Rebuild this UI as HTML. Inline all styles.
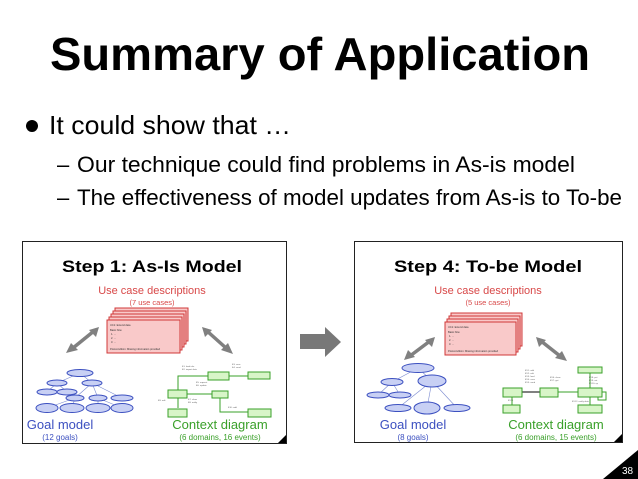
<!DOCTYPE html>
<html><head><meta charset="utf-8"><style>
html,body{margin:0;padding:0;background:#fff;}
svg{display:block;}
text{font-family:"Liberation Sans",sans-serif;}
</style></head><body>
<svg width="638" height="479" viewBox="0 0 638 479" xmlns="http://www.w3.org/2000/svg">
<rect width="638" height="479" fill="#fff"/>
<text x="50" y="70" font-size="46" font-weight="bold" textLength="540" lengthAdjust="spacingAndGlyphs">Summary of Application</text>
<circle cx="32" cy="126" r="6" fill="#000"/>
<text x="49" y="134" font-size="26" textLength="242" lengthAdjust="spacingAndGlyphs">It could show that …</text>
<text x="57" y="172" font-size="22">–</text>
<text x="77" y="172" font-size="22" textLength="498" lengthAdjust="spacingAndGlyphs">Our technique could find problems in As-is model</text>
<text x="57" y="205" font-size="22">–</text>
<text x="77" y="205" font-size="22" textLength="545" lengthAdjust="spacingAndGlyphs">The effectiveness of model updates from As-is to To-be</text>

<!-- left thumbnail -->
<rect x="22.5" y="241.5" width="264" height="202" fill="#fff" stroke="#222" stroke-width="1"/>
<text x="152" y="272" font-size="17" font-weight="bold" text-anchor="middle" textLength="180" lengthAdjust="spacingAndGlyphs">Step 1: As-Is Model</text>
<text x="152" y="294" font-size="11" fill="#d84848" text-anchor="middle">Use case descriptions</text>
<text x="152" y="305" font-size="7.5" fill="#d84848" text-anchor="middle">(7 use cases)</text>
<g fill="#f9c9c9" stroke="#d03838" stroke-width="1">
<rect x="115" y="308" width="73" height="33"/><rect x="113" y="311" width="73" height="33"/><rect x="111" y="314" width="73" height="33"/><rect x="109" y="317" width="73" height="33"/><rect x="107" y="320" width="73" height="33"/>
</g>
<g fill="#333" font-size="2.6"><text x="110" y="326">UC1: Extend data</text><text x="110" y="331">Basic flow</text><text x="111" y="335">1.  ...</text><text x="111" y="339">2.  ...</text><text x="111" y="343">3.  ...</text><text x="110" y="350">Postcondition: Missing information provided</text></g>
<g stroke="#808080" stroke-width="3.5" fill="#808080">
<line x1="94" y1="331" x2="73" y2="348"/><polygon points="66,353 71,343 78,350" stroke="none"/><polygon points="99,327 89,330 96,337" stroke="none"/>
<line x1="207" y1="331" x2="226" y2="348"/><polygon points="233,354 221,350 228,343" stroke="none"/><polygon points="202,327 212,330 205,337" stroke="none"/>
</g>
<g stroke="#7a8ad0" stroke-width="0.6">
<line x1="80" y1="373" x2="57" y2="383"/><line x1="80" y1="373" x2="92" y2="383"/><line x1="57" y1="383" x2="47" y2="392"/><line x1="57" y1="383" x2="67" y2="392"/><line x1="92" y1="383" x2="75" y2="398"/><line x1="92" y1="383" x2="98" y2="398"/><line x1="92" y1="383" x2="122" y2="398"/><line x1="75" y1="398" x2="47" y2="408"/><line x1="75" y1="398" x2="72" y2="408"/><line x1="98" y1="398" x2="98" y2="408"/><line x1="98" y1="398" x2="122" y2="408"/>
</g>
<g fill="#c8d0f4" stroke="#3c50c0" stroke-width="1">
<ellipse cx="80" cy="373" rx="13" ry="3.5"/><ellipse cx="57" cy="383" rx="10" ry="3"/><ellipse cx="92" cy="383" rx="10" ry="3"/><ellipse cx="47" cy="392" rx="10" ry="3"/><ellipse cx="67" cy="392" rx="10" ry="3"/><ellipse cx="75" cy="398" rx="9" ry="3"/><ellipse cx="98" cy="398" rx="9" ry="3"/><ellipse cx="122" cy="398" rx="11" ry="3"/><ellipse cx="47" cy="408" rx="11" ry="4.5"/><ellipse cx="72" cy="408" rx="12" ry="4.5"/><ellipse cx="98" cy="408" rx="12" ry="4.5"/><ellipse cx="122" cy="408" rx="11" ry="4.5"/>
</g>
<g stroke="#3aa02a" stroke-width="1" fill="none">
<polyline points="208,376 178,376 178,408"/><line x1="229" y1="376" x2="248" y2="376"/><line x1="187" y1="394" x2="212" y2="394"/><polyline points="220,398 220,412 248,412"/>
</g>
<g fill="#d8f5c8" stroke="#3aa02a" stroke-width="1">
<rect x="208" y="372" width="21" height="8"/><rect x="248" y="372" width="22" height="7"/><rect x="168" y="390" width="19" height="8"/><rect x="212" y="391" width="16" height="7"/><rect x="168" y="409" width="19" height="8"/><rect x="248" y="409" width="23" height="8"/>
</g>
<g fill="#666" font-size="2.2"><text x="182" y="367">E1: load info</text><text x="182" y="370">E2: import data</text><text x="232" y="365">E3: save</text><text x="232" y="368">E4: send</text><text x="196" y="383">E5: request</text><text x="196" y="386">E6: update</text><text x="188" y="400">E7: show</text><text x="188" y="403">E8: notify</text><text x="158" y="401">E9: edit</text><text x="228" y="408">E10: add</text></g>
<text x="60" y="429" font-size="13" fill="#3c50c0" text-anchor="middle">Goal model</text>
<text x="60" y="440" font-size="8" fill="#3c50c0" text-anchor="middle">(12 goals)</text>
<text x="220" y="429" font-size="13" fill="#3aa02a" text-anchor="middle">Context diagram</text>
<text x="220" y="440" font-size="8" fill="#3aa02a" text-anchor="middle">(6 domains, 16 events)</text>
<polygon points="278,443 286,443 286,435" fill="#000"/>

<!-- big arrow -->
<polygon points="300,334 325,334 325,327 341,342 325,357 325,349 300,349" fill="#787878"/>

<!-- right thumbnail -->
<rect x="354.5" y="241.5" width="268" height="201" fill="#fff" stroke="#222" stroke-width="1"/>
<text x="488" y="272" font-size="17" font-weight="bold" text-anchor="middle" textLength="188" lengthAdjust="spacingAndGlyphs">Step 4: To-be Model</text>
<text x="488" y="294" font-size="11" fill="#d84848" text-anchor="middle">Use case descriptions</text>
<text x="488" y="305" font-size="7.5" fill="#d84848" text-anchor="middle">(5 use cases)</text>
<g fill="#f9c9c9" stroke="#d03838" stroke-width="1">
<rect x="451" y="313" width="71" height="33"/><rect x="449" y="316" width="71" height="33"/><rect x="447" y="319" width="71" height="33"/><rect x="445" y="322" width="71" height="33"/>
</g>
<g fill="#333" font-size="2.6"><text x="448" y="328">UC1: Extend data</text><text x="448" y="333">Basic flow</text><text x="449" y="337">1.  ...</text><text x="449" y="341">2.  ...</text><text x="449" y="345">3.  ...</text><text x="448" y="352">Postcondition: Missing information provided</text></g>
<g stroke="#808080" stroke-width="3.5" fill="#808080">
<line x1="430" y1="341" x2="410" y2="356"/><polygon points="404,360 408,350 415,357" stroke="none"/><polygon points="435,337 425,340 432,347" stroke="none"/>
<line x1="541" y1="341" x2="560" y2="356"/><polygon points="567,361 555,358 562,351" stroke="none"/><polygon points="536,337 546,340 539,347" stroke="none"/>
</g>
<g stroke="#7a8ad0" stroke-width="0.6">
<line x1="418" y1="368" x2="392" y2="382"/><line x1="418" y1="368" x2="432" y2="381"/><line x1="392" y1="382" x2="378" y2="395"/><line x1="392" y1="382" x2="400" y2="395"/><line x1="432" y1="381" x2="398" y2="408"/><line x1="432" y1="381" x2="427" y2="408"/><line x1="432" y1="381" x2="457" y2="408"/>
</g>
<g fill="#c8d0f4" stroke="#3c50c0" stroke-width="1">
<ellipse cx="418" cy="368" rx="16" ry="4.5"/><ellipse cx="392" cy="382" rx="11" ry="3.5"/><ellipse cx="432" cy="381" rx="14" ry="6"/><ellipse cx="378" cy="395" rx="11" ry="3"/><ellipse cx="400" cy="395" rx="11" ry="3"/><ellipse cx="398" cy="408" rx="13" ry="3.5"/><ellipse cx="427" cy="408" rx="13" ry="6"/><ellipse cx="457" cy="408" rx="13" ry="3.5"/>
</g>
<line x1="522" y1="392" x2="540" y2="392" stroke="#000" stroke-width="1"/>
<g stroke="#3aa02a" stroke-width="1" fill="none">
<line x1="558" y1="392" x2="578" y2="392"/><line x1="590" y1="373" x2="590" y2="388"/><line x1="512" y1="397" x2="512" y2="405"/><line x1="590" y1="397" x2="590" y2="405"/><polyline points="602,392 606,392 606,400 598,400 598,397"/>
</g>
<g fill="#d8f5c8" stroke="#3aa02a" stroke-width="1">
<rect x="503" y="388" width="19" height="9"/><rect x="540" y="388" width="18" height="9"/><rect x="578" y="367" width="24" height="6"/><rect x="578" y="388" width="24" height="9"/><rect x="503" y="405" width="17" height="8"/><rect x="578" y="405" width="24" height="8"/>
</g>
<g fill="#666" font-size="2.2"><text x="525" y="371">EV1: add</text><text x="525" y="374">EV2: edit</text><text x="525" y="377">EV3: load</text><text x="525" y="380">EV4: save</text><text x="525" y="383">EV5: send</text><text x="550" y="378">EV6: show</text><text x="550" y="381">EV7: get</text><text x="589" y="378">EV8: put</text><text x="589" y="381">EV9: set</text><text x="589" y="384">EV10: up</text><text x="508" y="401">EV11</text><text x="572" y="402">EV12: notify data</text></g>
<text x="413" y="429" font-size="13" fill="#3c50c0" text-anchor="middle">Goal model</text>
<text x="413" y="440" font-size="8" fill="#3c50c0" text-anchor="middle">(8 goals)</text>
<text x="556" y="429" font-size="13" fill="#3aa02a" text-anchor="middle">Context diagram</text>
<text x="556" y="440" font-size="8" fill="#3aa02a" text-anchor="middle">(6 domains, 15 events)</text>
<polygon points="614,442 622,442 622,434" fill="#000"/>

<!-- page number -->
<polygon points="603,479 638,479 638,450" fill="#000"/>
<text x="622" y="474" font-size="10" fill="#fff">38</text>
</svg>
</body></html>
